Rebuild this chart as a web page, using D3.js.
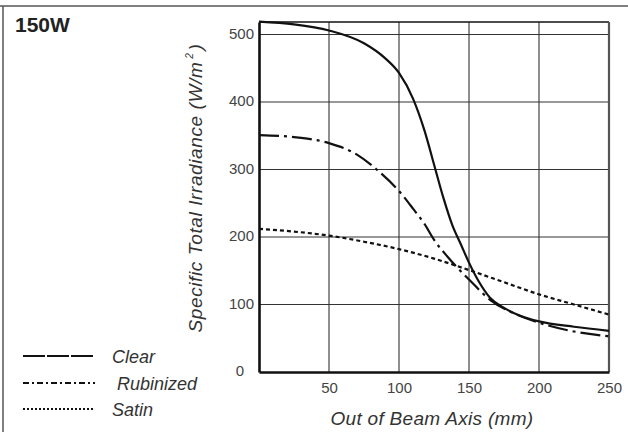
<!DOCTYPE html>
<html>
<head>
<meta charset="utf-8">
<script src="https://cdn.jsdelivr.net/npm/d3@7"></script>
<style>
  body { margin: 0; background: #fff; }
  svg { display: block; }
  text { font-family: "Liberation Sans", Arial, sans-serif; }
</style>
</head>
<body>
<svg id="chart" width="628" height="432"></svg>
<script>
// ---- data ----
const title = "150W";
const xLabel = "Out of Beam Axis (mm)";
const yLabel = "Specific Total Irradiance  (W/m";
const xTicks = [50, 100, 150, 200, 250];
const yTicks = [0, 100, 200, 300, 400, 500];
const gridX = [50, 100, 150, 200];
const gridY = [100, 200, 300, 400, 500];

const clearX = [0, 25, 50, 75, 90, 100, 110, 118, 126, 132, 138, 144, 150, 157, 165, 175, 187, 200, 225, 250];
const clearY = [519, 515, 506, 487, 465, 443, 405, 359, 300, 256, 218, 190, 162, 134, 110, 95, 83, 75, 67, 61];

const rubX = [0, 25, 50, 70, 84, 100, 110, 118, 125, 135, 141, 150, 165, 182, 200, 225, 250];
const rubY = [351, 348, 339, 322, 300, 268, 242, 220, 196, 170, 156, 137, 107, 87, 73, 60, 53];

const satinX = [0, 25, 50, 75, 100, 125, 150, 175, 200, 225, 250];
const satinY = [212, 208, 202, 193, 182, 168, 151, 133, 115, 100, 85];

const seriesNames = ["Clear", "Rubinized", "Satin"];

// ---- layout ----
const svg = d3.select("#chart");
const x = d3.scaleLinear().domain([0, 250]).range([259, 609]);
const y = d3.scaleLinear().domain([0, 518.5]).range([372, 22]);

// outer frame (top and left)
svg.append("line").attr("x1", 0).attr("x2", 628).attr("y1", 6).attr("y2", 6)
  .attr("stroke", "#555").attr("stroke-width", 1.5);
svg.append("line").attr("x1", 3).attr("x2", 3).attr("y1", 6).attr("y2", 432)
  .attr("stroke", "#555").attr("stroke-width", 1.5);

// title
svg.append("text").attr("x", 15).attr("y", 32).attr("font-size", 21)
  .attr("font-weight", "bold").attr("fill", "#222").text(title);

// grid
svg.append("g").selectAll("line").data(gridX).join("line")
  .attr("x1", d => x(d)).attr("x2", d => x(d)).attr("y1", y.range()[1]).attr("y2", y.range()[0])
  .attr("stroke", "#333").attr("stroke-width", 1.1);
svg.append("g").selectAll("line").data(gridY).join("line")
  .attr("x1", x.range()[0]).attr("x2", x.range()[1]).attr("y1", d => y(d)).attr("y2", d => y(d))
  .attr("stroke", "#333").attr("stroke-width", 1.1);

// frame of plot
svg.append("line").attr("x1", x.range()[0]).attr("x2", x.range()[1]).attr("y1", 22).attr("y2", 22)
  .attr("stroke", "#111").attr("stroke-width", 1.5);
svg.append("line").attr("x1", x.range()[1]).attr("x2", x.range()[1]).attr("y1", 22).attr("y2", 372)
  .attr("stroke", "#555").attr("stroke-width", 2.2);

// axes
const yAxis = svg.append("g").attr("transform", `translate(${x.range()[0]},0)`)
  .call(d3.axisLeft(y).tickValues(yTicks).tickSize(0).tickPadding(5));
yAxis.select(".domain").attr("stroke", "#111").attr("stroke-width", 2.6);
yAxis.selectAll("text").attr("font-size", 15).attr("fill", "#444")
  .attr("font-family", "Liberation Sans, Arial, sans-serif").attr("dy", "0.25em");
yAxis.selectAll(".tick").filter(d => d === 0).select("text").attr("x", -15);

const xAxis = svg.append("g").attr("transform", `translate(0,${y.range()[0]})`)
  .call(d3.axisBottom(x).tickValues(xTicks).tickSize(0).tickPadding(10));
xAxis.select(".domain").attr("stroke", "#111").attr("stroke-width", 2.6);
xAxis.selectAll("text").attr("font-size", 15).attr("fill", "#444")
  .attr("font-family", "Liberation Sans, Arial, sans-serif");

// axis titles
svg.append("text").attr("x", 432).attr("y", 425).attr("text-anchor", "middle")
  .attr("font-size", 19).attr("font-style", "italic").attr("fill", "#333")
  .attr("letter-spacing", 0.3).text(xLabel);
const yt = svg.append("text").attr("transform", "translate(202,188) rotate(-90)")
  .attr("text-anchor", "middle").attr("font-size", 19).attr("font-style", "italic").attr("fill", "#333")
  .attr("letter-spacing", 0.6);
yt.append("tspan").text(yLabel);
yt.append("tspan").attr("font-size", 10).attr("dx", 3).attr("dy", -9).text("2");
yt.append("tspan").attr("dx", 2).attr("dy", 9).text(")");

// curves
const line = d3.line().x(d => x(d[0])).y(d => y(d[1])).curve(d3.curveMonotoneX);
const series = [
  { name: seriesNames[0], xs: clearX, ys: clearY, dash: null },
  { name: seriesNames[1], xs: rubX, ys: rubY, dash: "20,5,3,5" },
  { name: seriesNames[2], xs: satinX, ys: satinY, dash: "4,3" }
];
svg.append("g").selectAll("path").data(series).join("path")
  .attr("d", s => line(s.xs.map((v, i) => [v, s.ys[i]])))
  .attr("fill", "none").attr("stroke", "#111").attr("stroke-width", 2.2)
  .attr("stroke-dasharray", s => s.dash);

// legend
const legend = [
  { name: seriesNames[0], ly: 356, tx: 112, dash: "22,2" },
  { name: seriesNames[1], ly: 383, tx: 117, dash: "6,3,2,3" },
  { name: seriesNames[2], ly: 409, tx: 112, dash: "2,2" }
];
const lg = svg.append("g").selectAll("g").data(legend).join("g");
lg.append("line").attr("x1", 23).attr("x2", 95).attr("y1", d => d.ly).attr("y2", d => d.ly)
  .attr("stroke", "#111").attr("stroke-width", 2).attr("stroke-dasharray", d => d.dash);
lg.append("text").attr("x", d => d.tx).attr("y", d => d.ly + 7).attr("font-size", 18)
  .attr("font-style", "italic").attr("fill", "#333").text(d => d.name);
</script>
</body>
</html>
